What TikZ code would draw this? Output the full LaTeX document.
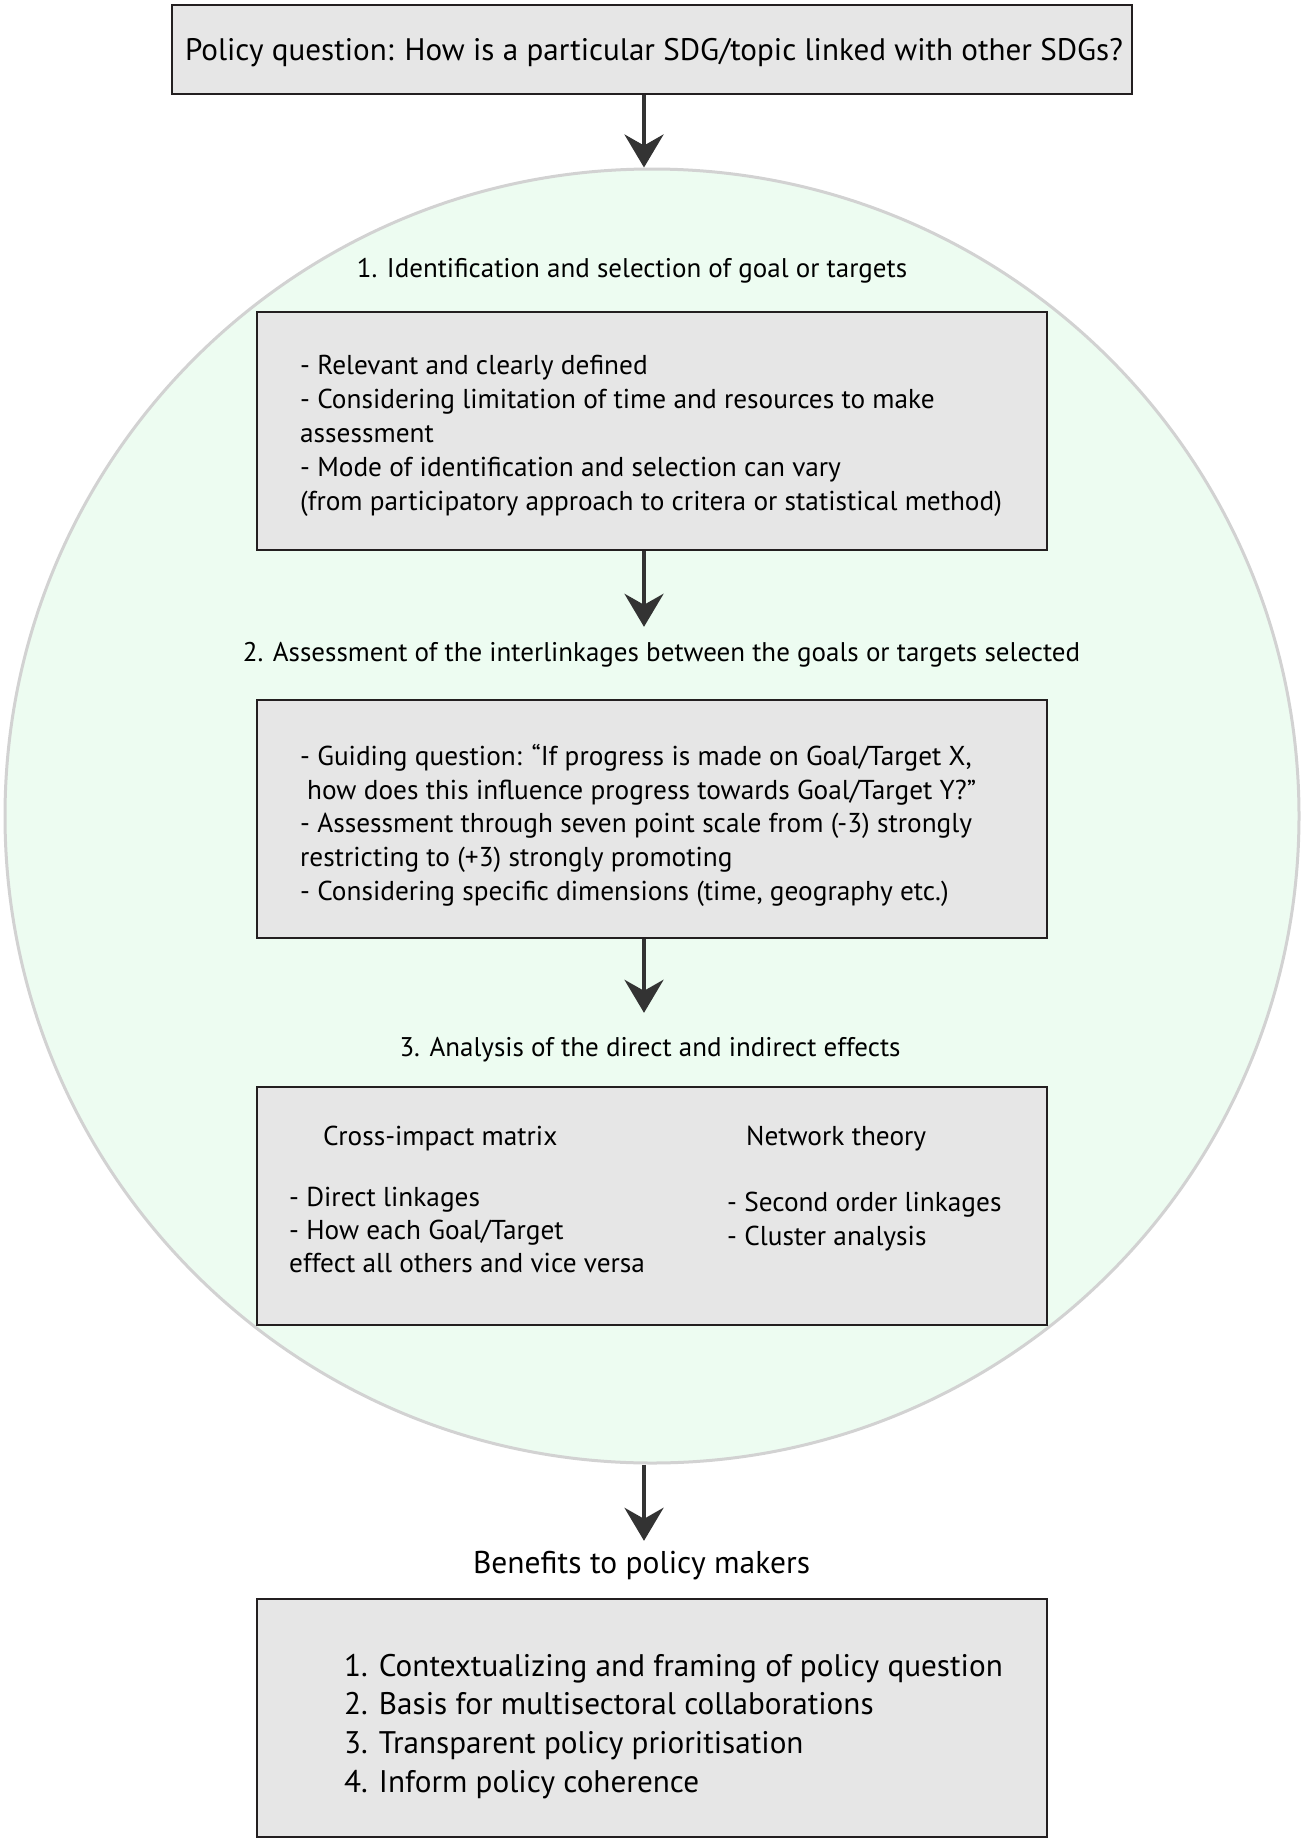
\documentclass[tikz,border=0pt]{standalone}
\usepackage{fontspec}
\setmainfont{PT Sans}
\usetikzlibrary{arrows.meta}
\definecolor{boxgray}{HTML}{E6E6E6}
\definecolor{boxline}{HTML}{231F20}
\definecolor{arrowgray}{HTML}{333333}
\definecolor{cyclegreen}{HTML}{EDFCF1}
\definecolor{cycleline}{HTML}{D2D2D2}
\begin{document}
\begin{tikzpicture}[x=1pt, y=-1pt,
  panel/.style={draw=boxline, line width=2.5pt, fill=boxgray, minimum width=790pt, minimum height=238pt, inner sep=0pt},
  flow/.style={draw=arrowgray, line width=4pt, -{Stealth[length=33pt, width=39pt, inset=11pt]}},
  line/.style={anchor=base west, inner sep=0pt, font=\fontsize{27.3}{34}\selectfont},
  head/.style={anchor=base, inner sep=0pt, text height=20pt, text depth=6pt, font=\fontsize{27}{34}\selectfont},
  big/.style={anchor=base west, inner sep=0pt, font=\fontsize{31.2}{38}\selectfont}]
\useasboundingbox (0,0) rectangle (1305,1841); % page size
\coordinate (axis) at (644,0); % x of the arrows

\node[draw=boxline, line width=2.5pt, fill=boxgray, minimum width=960pt, minimum height=89pt] (question) at (652,49.5) {}; % top box
\node[anchor=base, inner sep=0pt, font=\fontsize{31.1}{36}\selectfont] (questiontext) at (654,61) {Policy question: How is a particular SDG/topic linked with other SDGs?};

\node[circle, draw=cycleline, line width=3pt, fill=cyclegreen, minimum size=1294pt, inner sep=0pt] (cycle) at (652,816) {}; % green circle

\node[head] (step1) at (632,277) {1. Identification and selection of goal or targets}; % step 1 label
\node[panel] (selbox) at (652,431) {}; % step 1 box
\node[line] (sel1) at (300,374) {- Relevant and clearly defined};
\node[line] (sel2) at (300,408) {- Considering limitation of time and resources to make};
\node[line] (sel3) at (300,442) {assessment};
\node[line] (sel4) at (300,476) {- Mode of identification and selection can vary};
\node[line] (sel5) at (300,510) {(from participatory approach to critera or statistical method)};

\node[head] (step2) at (661.5,661) {2. Assessment of the interlinkages between the goals or targets selected}; % step 2 label
\node[panel] (assbox) at (652,819) {}; % step 2 box
\node[line] (ass1) at (300,765) {- Guiding question: “If progress is made on Goal/Target X,};
\node[line] (ass2) at (307,799) {how does this influence progress towards Goal/Target Y?”};
\node[line] (ass3) at (300,832) {- Assessment through seven point scale from (-3) strongly};
\node[line] (ass4) at (300,866) {restricting to (+3) strongly promoting};
\node[line] (ass5) at (300,900) {- Considering specific dimensions (time, geography etc.)};

\node[head] (step3) at (650,1056) {3. Analysis of the direct and indirect effects}; % step 3 label
\node[panel] (anabox) at (652,1206) {}; % step 3 box
\node[line] (cim) at (323,1145) {Cross-impact matrix}; % left column
\node[line] (cim1) at (289,1206) {- Direct linkages};
\node[line] (cim2) at (289,1239) {- How each Goal/Target};
\node[line] (cim3) at (289,1272) {effect all others and vice versa};
\node[line] (net) at (746,1145) {Network theory}; % right column
\node[line] (net1) at (727,1211) {- Second order linkages};
\node[line] (net2) at (727,1245) {- Cluster analysis};

\node[anchor=base, inner sep=0pt, text height=23pt, text depth=7pt, font=\fontsize{31.5}{38}\selectfont] (benefits) at (641.5,1573) {Benefits to policy makers}; % outcome label
\node[panel] (benbox) at (652,1718) {}; % outcome box
\node[big] (ben1) at (344,1676) {1. Contextualizing and framing of policy question};
\node[big] (ben2) at (344,1714) {2. Basis for multisectoral collaborations};
\node[big] (ben3) at (344,1753) {3. Transparent policy prioritisation};
\node[big] (ben4) at (344,1792) {4. Inform policy coherence};

\draw[flow] (question.south -| axis) -- (cycle.north -| axis); % into the cycle
\draw[flow, shorten >=14pt] (selbox.south -| axis) -- (step2.north -| axis); % step 1 to 2
\draw[flow, shorten >=23pt] (assbox.south -| axis) -- (step3.north -| axis); % step 2 to 3
\draw[flow, shorten >=9pt] (cycle.south -| axis) -- (benefits.north -| axis); % out of the cycle
\end{tikzpicture}
\end{document}
